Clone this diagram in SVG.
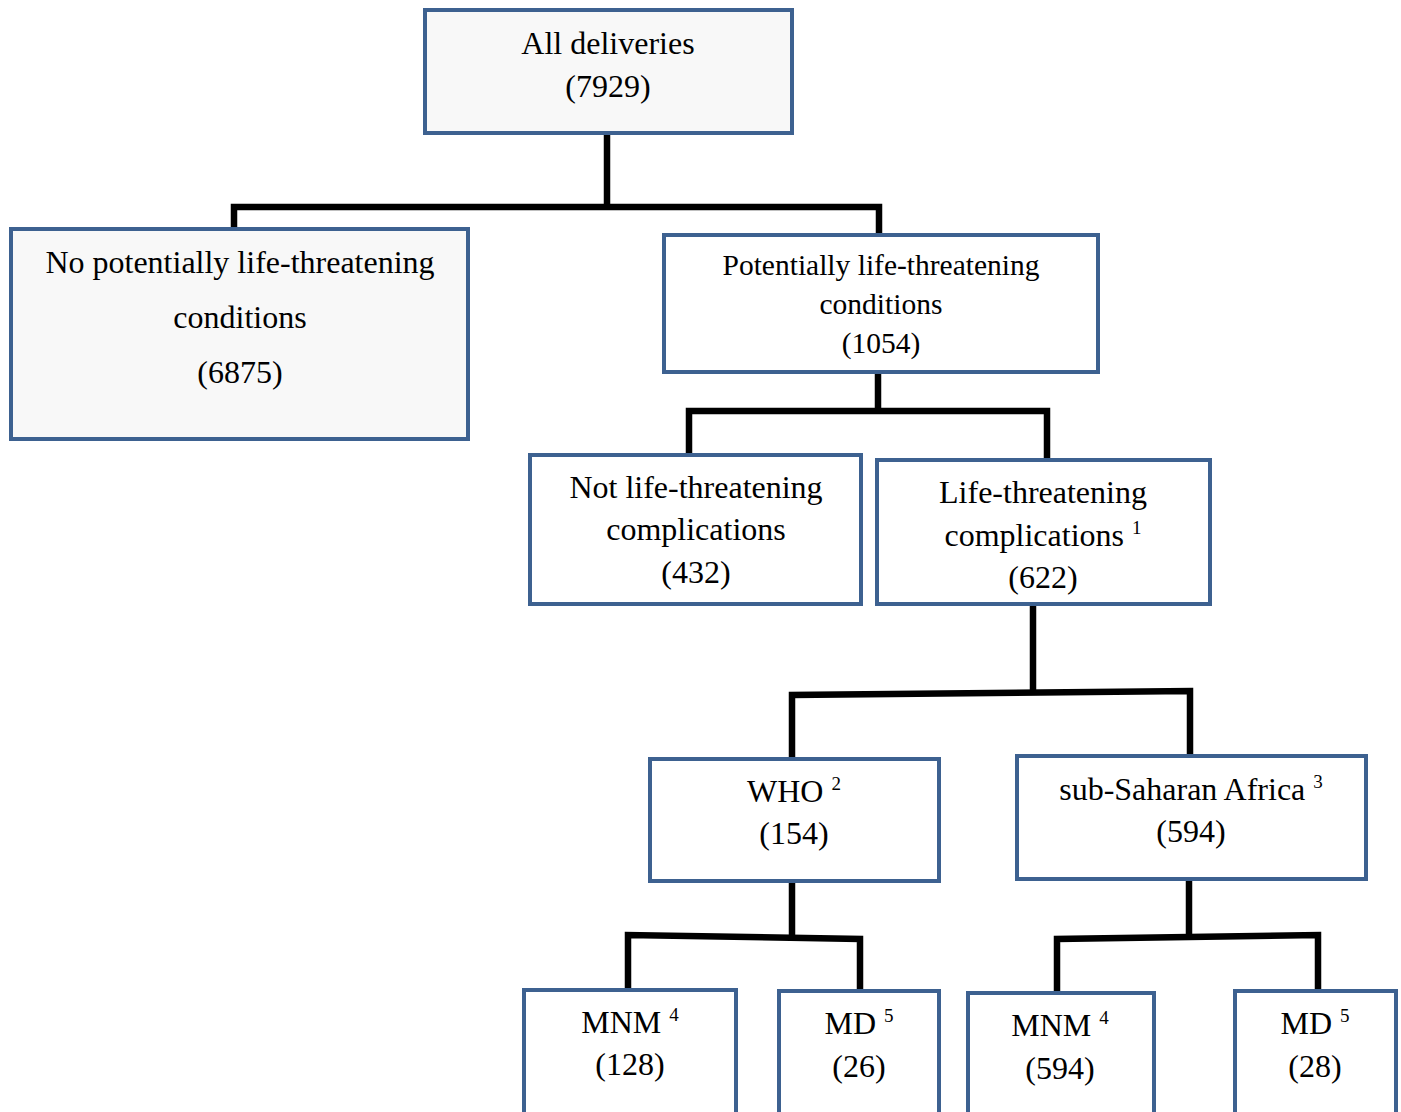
<svg xmlns="http://www.w3.org/2000/svg" width="1401" height="1112" viewBox="0 0 1401 1112">
<style>
.box{fill:#ffffff;stroke:#3d6190;stroke-width:4}
.grey{fill:#f8f8f8}
.conn{fill:none;stroke:#000000;stroke-width:6.5;stroke-linejoin:miter;stroke-linecap:butt}
text{font-family:"Liberation Serif","Times New Roman",serif;font-size:32px;fill:#000000;text-anchor:middle}
.sm{font-size:29.5px}
.sup{font-size:19px}
</style>
<rect width="1401" height="1112" fill="#ffffff"/>
<g id="connectors">
<path class="conn" d="M607,133 V207"/>
<path class="conn" d="M234,228 V207 H879 V234"/>
<path class="conn" d="M878,372 V411"/>
<path class="conn" d="M689,455 V411 H1047 V459"/>
<path class="conn" d="M1033,604 V690"/>
<path class="conn" d="M792,758 V695 L1190,691 V755"/>
<path class="conn" d="M792,881 V937"/>
<path class="conn" d="M628,990 V935 L860,939 V990"/>
<path class="conn" d="M1189,879 V937"/>
<path class="conn" d="M1057,992 V939 L1318,935 V990"/>
</g>
<g id="all-deliveries">
<rect class="box grey" x="425" y="10" width="367" height="123"/>
<text x="608" y="54">All deliveries</text>
<text x="608" y="97">(7929)</text>
</g>
<g id="no-potentially">
<rect class="box grey" x="11" y="229" width="457" height="210"/>
<text x="240" y="273">No potentially life-threatening</text>
<text x="240" y="328">conditions</text>
<text x="240" y="383">(6875)</text>
</g>
<g id="potentially">
<rect class="box" x="664" y="235" width="434" height="137"/>
<text class="sm" x="881" y="275">Potentially life-threatening</text>
<text class="sm" x="881" y="314">conditions</text>
<text class="sm" x="881" y="353">(1054)</text>
</g>
<g id="not-life-threatening">
<rect class="box" x="530" y="455" width="331" height="149"/>
<text x="696" y="498">Not life-threatening</text>
<text x="696" y="540">complications</text>
<text x="696" y="583">(432)</text>
</g>
<g id="life-threatening">
<rect class="box" x="877" y="460" width="333" height="144"/>
<text x="1043" y="503">Life-threatening</text>
<text x="1043" y="546">complications <tspan class="sup" dy="-12">1</tspan></text>
<text x="1043" y="588">(622)</text>
</g>
<g id="who">
<rect class="box" x="650" y="759" width="289" height="122"/>
<text x="794" y="802">WHO <tspan class="sup" dy="-12">2</tspan></text>
<text x="794" y="844">(154)</text>
</g>
<g id="ssa">
<rect class="box" x="1017" y="756" width="349" height="123"/>
<text x="1191" y="800">sub-Saharan Africa <tspan class="sup" dy="-12">3</tspan></text>
<text x="1191" y="842">(594)</text>
</g>
<g id="who-mnm">
<rect class="box" x="524" y="990" width="212" height="130"/>
<text x="630" y="1033">MNM <tspan class="sup" dy="-12">4</tspan></text>
<text x="630" y="1075">(128)</text>
</g>
<g id="who-md">
<rect class="box" x="779" y="991" width="160" height="129"/>
<text x="859" y="1034">MD <tspan class="sup" dy="-12">5</tspan></text>
<text x="859" y="1077">(26)</text>
</g>
<g id="ssa-mnm">
<rect class="box" x="968" y="993" width="186" height="127"/>
<text x="1060" y="1036">MNM <tspan class="sup" dy="-12">4</tspan></text>
<text x="1060" y="1079">(594)</text>
</g>
<g id="ssa-md">
<rect class="box" x="1235" y="991" width="161" height="129"/>
<text x="1315" y="1034">MD <tspan class="sup" dy="-12">5</tspan></text>
<text x="1315" y="1077">(28)</text>
</g>
</svg>
